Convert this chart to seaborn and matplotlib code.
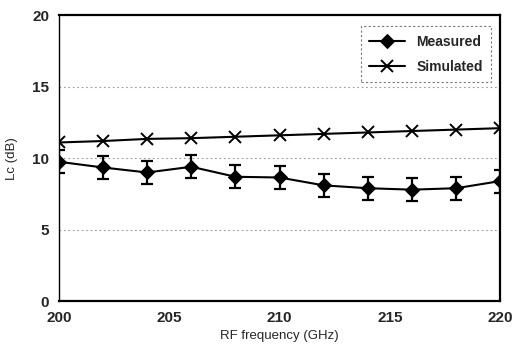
import numpy as np
import pandas as pd
import matplotlib
matplotlib.use("Agg")
import matplotlib.pyplot as plt
import seaborn as sns

# values
freq = [200, 202, 204, 206, 208, 210, 212, 214, 216, 218, 220]
measured = [9.75, 9.35, 9.0, 9.4, 8.7, 8.65, 8.1, 7.9, 7.8, 7.9, 8.4]
measured_err = [0.8, 0.8, 0.8, 0.8, 0.8, 0.8, 0.8, 0.8, 0.8, 0.8, 0.8]
simulated = [11.1, 11.2, 11.35, 11.4, 11.5, 11.6, 11.7, 11.8, 11.9, 12.0, 12.1]

df = pd.DataFrame({"freq": freq, "Measured": measured, "Simulated": simulated})
long_df = df.melt(id_vars="freq", var_name="series", value_name="Lc")

sns.set_theme(style="white")
plt.rcParams["font.family"] = ["Liberation Sans", "DejaVu Sans"]

fig = plt.figure(figsize=(5.12, 3.62), dpi=100)
ax = fig.add_axes([0.115, 0.168, 0.862, 0.79])

# dotted gray gridlines at 5, 10, 15
for yv in [5, 10, 15]:
    ax.axhline(yv, color="#9a9a9a", lw=0.8, ls=(0, (1.5, 2.5)), zorder=0)

ax.errorbar(freq, measured, yerr=measured_err, fmt="none", ecolor="black",
            elinewidth=1.6, capsize=4.5, capthick=1.6, zorder=2)
sns.lineplot(data=long_df, x="freq", y="Lc", hue="series", style="series",
             palette={"Measured": "black", "Simulated": "black"},
             markers={"Measured": "D", "Simulated": "X"}, dashes=False,
             lw=1.5, markersize=7, markeredgecolor="black", ax=ax, zorder=3)

ax.set_xlim(200, 220)
ax.set_ylim(0, 20)
ax.set_xticks([200, 205, 210, 215, 220])
ax.set_yticks([0, 5, 10, 15, 20])
ax.tick_params(axis="both", labelsize=11, length=3, direction="in", color="black", pad=7)
for lbl in ax.get_xticklabels() + ax.get_yticklabels():
    lbl.set_fontweight("bold")

ax.set_xlabel("RF frequency (GHz)", fontsize=9.5, labelpad=4)
ax.set_ylabel("Lc (dB)", fontsize=9.5, labelpad=10)

for side, sp in ax.spines.items():
    sp.set_visible(True)
    sp.set_color("black")
    sp.set_linewidth(1.6 if side in ("top", "right", "bottom") else 1.0)

leg = ax.legend(loc="upper right", bbox_to_anchor=(0.995, 0.985), fontsize=10,
                title=None, frameon=True, fancybox=False, handlelength=2.6,
                borderpad=0.6, labelspacing=0.8)
leg.get_frame().set_edgecolor("#555555")
leg.get_frame().set_linestyle((0, (2, 2)))
leg.get_frame().set_linewidth(0.8)
for t in leg.get_texts():
    t.set_fontweight("bold")

# simulated series uses a thin line-art cross, as in the original
for ln in list(ax.lines) + list(leg.legend_handles):
    if ln.get_marker() == "X":
        ln.set_marker("x")
        ln.set_markersize(9)
        ln.set_markeredgewidth(1.4)

fig.savefig("out.png", dpi=100)
